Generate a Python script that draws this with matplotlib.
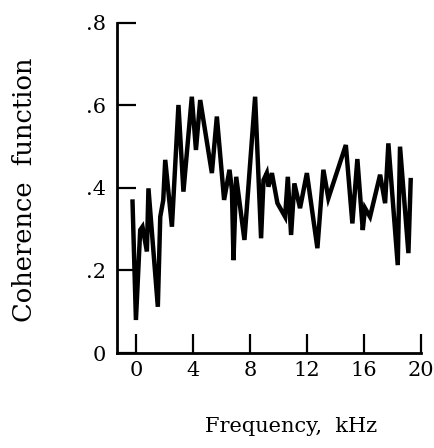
import matplotlib
matplotlib.use("Agg")
import matplotlib.pyplot as plt

# coherence curve (kHz, coherence)
freq = [-0.26, -0.02, 0.28, 0.44, 0.75, 0.86, 1.52, 1.69, 1.90, 2.04, 2.51, 2.97,
        3.32, 3.91, 4.20, 4.50, 5.32, 5.67, 6.18, 6.56, 6.73, 6.84, 7.03, 7.61,
        8.36, 8.78, 8.95, 9.18, 9.30, 9.54, 9.93, 10.47, 10.66, 10.89, 11.12, 11.52,
        12.00, 12.74, 13.16, 13.51, 14.74, 15.20, 15.55, 15.93, 16.09, 16.44, 17.15,
        17.50, 17.73, 18.39, 18.55, 19.14, 19.30]
coh = [0.367, 0.080, 0.298, 0.306, 0.246, 0.399, 0.112, 0.330, 0.370, 0.468, 0.306, 0.601,
       0.391, 0.621, 0.492, 0.613, 0.436, 0.573, 0.371, 0.444, 0.395, 0.225, 0.427, 0.274,
       0.621, 0.278, 0.419, 0.436, 0.403, 0.436, 0.363, 0.330, 0.427, 0.286, 0.411, 0.351,
       0.436, 0.254, 0.444, 0.375, 0.504, 0.314, 0.470, 0.298, 0.351, 0.330, 0.432,
       0.363, 0.508, 0.213, 0.500, 0.242, 0.419]

xticks = [0, 4, 8, 12, 16, 20]
yticks = [0, 0.2, 0.4, 0.6, 0.8]
ytick_labels = ["0", ".2", ".4", ".6", ".8"]

plt.rcParams["font.family"] = "DejaVu Serif"

fig = plt.figure(figsize=(4.35, 4.48), dpi=100)
ax = fig.add_axes([0.269, 0.212, 0.698, 0.737])

ax.plot(freq, coh, color="black", lw=3.2, solid_joinstyle="miter")

ax.set_xlim(-1.35, 20)
ax.set_ylim(0, 0.8)
ax.set_xticks(xticks)
ax.set_yticks(yticks)
ax.set_yticklabels(ytick_labels)

for side in ["top", "right"]:
    ax.spines[side].set_visible(False)
for side in ["left", "bottom"]:
    ax.spines[side].set_linewidth(2)

ax.tick_params(direction="in", length=14, width=1.6, labelsize=15)
ax.tick_params(axis="y", pad=8)
ax.tick_params(axis="x", pad=6)

ax.set_xlabel("Frequency,  kHz", fontsize=15)
ax.set_ylabel("Coherence  function", fontsize=18.5)
ax.xaxis.set_label_coords(0.573, -0.195)
ax.yaxis.set_label_coords(-0.263, 0.494)

fig.savefig("out.png", dpi=100)
